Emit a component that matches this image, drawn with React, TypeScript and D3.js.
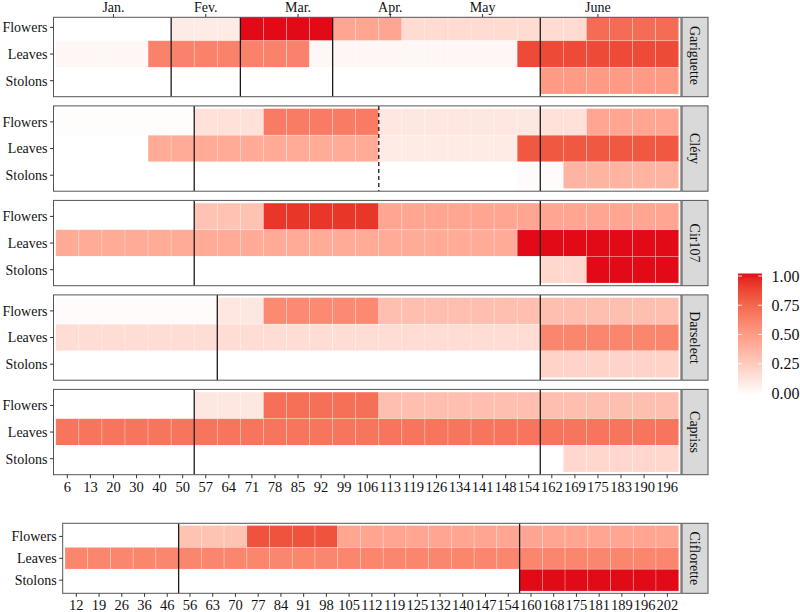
import React from "react";
import * as d3 from "d3";

// ---------- data ----------
const topDays = ["6","13","20","30","40","50","57","64","71","78","85","92","99","106","113","119","126","134","141","148","154","162","169","175","183","190","196"];
const cifDays = ["12","19","26","36","46","56","63","70","77","84","91","98","105","112","119","125","132","140","147","154","160","168","175","181","189","196","202"];
const organs = ["Flowers", "Leaves", "Stolons"];
const months = ["Jan.", "Fev.", "Mar.", "Apr.", "May", "June"];
const monthDays = ["20", "57", "85", "113", "141", "175"];
const cultivars = ["Gariguette", "Cléry", "Cir107", "Darselect", "Capriss"];
const legendTicks = [0, 0.25, 0.5, 0.75, 1];

const garFlowers = [0,0,0,0,0,0.1,0.1,0.1,1,1,1,1,0.45,0.45,0.45,0.18,0.18,0.18,0.18,0.18,0.18,0.18,0.18,0.72,0.72,0.72,0.72];
const garLeaves = [0.04,0.04,0.04,0.04,0.62,0.62,0.62,0.62,0.62,0.62,0.62,0.04,0.04,0.04,0.04,0.04,0.04,0.04,0.04,0.04,0.85,0.85,0.85,0.85,0.85,0.85,0.85];
const garStolons = [0,0,0,0,0,0,0,0,0,0,0,0,0,0,0,0,0,0,0,0,0,0.5,0.5,0.5,0.5,0.5,0.5];

const cleFlowers = [0.01,0.01,0.01,0.01,0.01,0.01,0.15,0.15,0.15,0.65,0.65,0.65,0.65,0.65,0.12,0.12,0.12,0.12,0.12,0.12,0.12,0.15,0.15,0.45,0.45,0.45,0.45];
const cleLeaves = [0,0,0,0,0.42,0.42,0.42,0.42,0.42,0.42,0.42,0.42,0.42,0.42,0.1,0.1,0.1,0.1,0.1,0.1,0.8,0.8,0.8,0.8,0.8,0.8,0.8];
const cleStolons = [0,0,0,0,0,0,0,0,0,0,0,0,0,0,0,0,0,0,0,0,0.02,0.02,0.38,0.38,0.38,0.38,0.38];

const cirFlowers = [0,0,0,0,0,0,0.3,0.3,0.3,0.92,0.92,0.92,0.92,0.92,0.45,0.45,0.45,0.45,0.45,0.45,0.45,0.45,0.45,0.45,0.45,0.45,0.45];
const cirLeaves = [0.42,0.42,0.42,0.42,0.42,0.42,0.42,0.42,0.42,0.42,0.42,0.42,0.42,0.42,0.42,0.42,0.42,0.42,0.42,0.42,1,1,1,1,1,1,1];
const cirStolons = [0,0,0,0,0,0,0,0,0,0,0,0,0,0,0,0,0,0,0,0,0,0.2,0.2,1,1,1,1];

const darFlowers = [0.02,0.02,0.02,0.02,0.02,0.02,0.02,0.12,0.12,0.58,0.58,0.58,0.58,0.58,0.32,0.32,0.32,0.32,0.32,0.32,0.32,0.32,0.32,0.32,0.32,0.32,0.32];
const darLeaves = [0.17,0.17,0.17,0.17,0.17,0.17,0.17,0.17,0.17,0.17,0.17,0.17,0.17,0.17,0.17,0.17,0.17,0.17,0.17,0.17,0.17,0.6,0.6,0.6,0.6,0.6,0.6];
const darStolons = [0,0,0,0,0,0,0,0,0,0,0,0,0,0,0,0,0,0,0,0,0,0.22,0.22,0.22,0.22,0.22,0.22];

const capFlowers = [0,0,0,0,0,0,0.12,0.12,0.12,0.7,0.7,0.7,0.7,0.7,0.32,0.32,0.32,0.32,0.32,0.32,0.32,0.32,0.32,0.32,0.32,0.32,0.32];
const capLeaves = [0.68,0.68,0.68,0.68,0.68,0.68,0.68,0.68,0.68,0.68,0.68,0.68,0.68,0.68,0.68,0.68,0.68,0.68,0.68,0.68,0.68,0.68,0.68,0.68,0.68,0.68,0.68];
const capStolons = [0,0,0,0,0,0,0,0,0,0,0,0,0,0,0,0,0,0,0,0,0,0,0.2,0.2,0.2,0.2,0.2];

const cifFlowers = [0,0,0,0,0,0.3,0.3,0.3,0.82,0.82,0.82,0.82,0.45,0.45,0.45,0.45,0.45,0.45,0.45,0.45,0.45,0.45,0.45,0.45,0.45,0.45,0.45];
const cifLeaves = [0.6,0.6,0.6,0.6,0.6,0.6,0.6,0.6,0.6,0.6,0.6,0.6,0.6,0.6,0.6,0.6,0.6,0.6,0.6,0.6,0.6,0.6,0.6,0.6,0.6,0.6,0.6];
const cifStolons = [0,0,0,0,0,0,0,0,0,0,0,0,0,0,0,0,0,0,0,0,1,1,1,1,1,1,1];

// vertical separators: first day after the line
const garLines = ["50", "71", "99", "162"];
const cleLines = ["57", "162"];
const cleDashed = ["113"];
const cirLines = ["57", "162"];
const darLines = ["64", "162"];
const capLines = ["57", "162"];
const cifLines = ["56", "160"];

// ---------- styling ----------
const FONT = "'Liberation Serif', 'Times New Roman', serif";
const FS = 14;
const FSX = 14.5;
const color = d3.scaleLinear<string>().domain([0, 1]).range(["#ffffff", "#E20A17"]).interpolate(d3.interpolateLab);

type PanelProps = {
  name: string;
  days: string[];
  rows: number[][];
  lines: string[];
  dashed?: string[];
  x0: number; x1: number; top: number; height: number;
  clipTop?: number;
  showX?: boolean;
  labelGap?: number;
  stripCenter?: number;
};

function Panel(p: PanelProps) {
  const x = d3.scaleBand().domain(p.days).range([p.x0, p.x1]).paddingInner(0).paddingOuter(0.1);
  const y = d3.scaleBand().domain(organs).range([p.top, p.top + p.height]).paddingInner(0).paddingOuter(0.1);
  const visTop = p.clipTop ?? p.top;
  const bottom = p.top + p.height;
  const clipId = "clip-" + p.name.replace(/[^a-zA-Z0-9]/g, "");
  const stripX0 = 682, stripX1 = 708;
  const sc = p.stripCenter ?? (p.top + bottom) / 2;
  return (
    <g>
      <defs>
        <clipPath id={clipId}>
          <rect x={p.x0} y={visTop} width={p.x1 - p.x0} height={bottom - visTop} />
        </clipPath>
      </defs>
      <g clipPath={`url(#${clipId})`}>
        {organs.map((o, ri) =>
          p.days.map((d, ci) => (
            <rect key={o + d} x={x(d)} y={y(o)} width={x.bandwidth()} height={y.bandwidth()}
              fill={color(p.rows[ri][ci])} stroke="#ffffff" strokeOpacity={0.35} strokeWidth={0.7} />
          ))
        )}
        {p.lines.map((d) => (
          <line key={"l" + d} x1={x(d)} x2={x(d)} y1={visTop} y2={bottom} stroke="#1a1a1a" strokeWidth={1.3} />
        ))}
        {(p.dashed || []).map((d) => (
          <line key={"dl" + d} x1={x(d)} x2={x(d)} y1={visTop} y2={bottom} stroke="#1a1a1a" strokeWidth={1.3} strokeDasharray="4,3" />
        ))}
      </g>
      <rect x={p.x0} y={visTop} width={p.x1 - p.x0} height={bottom - visTop} fill="none" stroke="#555" strokeWidth={1} />
      {/* y axis */}
      {organs.map((o) => {
        const cy = (y(o) as number) + y.bandwidth() / 2;
        return (
          <g key={"y" + o}>
            <line x1={p.x0 - 3.5} x2={p.x0} y1={cy} y2={cy} stroke="#333" strokeWidth={1} />
            <text x={p.x0 - (p.labelGap ?? 6)} y={cy} dy="0.35em" textAnchor="end" fontFamily={FONT} fontSize={FS} fill="#111">{o}</text>
          </g>
        );
      })}
      {/* x axis */}
      {p.showX && p.days.map((d) => {
        const cx = (x(d) as number) + x.bandwidth() / 2;
        return (
          <g key={"x" + d}>
            <line x1={cx} x2={cx} y1={bottom} y2={bottom + 3.5} stroke="#333" strokeWidth={1} />
            <text x={cx} y={bottom + 17} textAnchor="middle" fontFamily={FONT} fontSize={FSX} fill="#111">{d}</text>
          </g>
        );
      })}
      {/* strip */}
      <rect x={stripX0} y={visTop} width={stripX1 - stripX0} height={bottom - visTop} fill="#D9D9D9" stroke="#555" strokeWidth={1} />
      <text transform={`translate(${(stripX0 + stripX1) / 2},${sc}) rotate(90)`} textAnchor="middle" dy="0.35em"
        fontFamily={FONT} fontSize={FS} fill="#111">{p.name}</text>
    </g>
  );
}

export default function App() {
  const X0 = 53.5, X1 = 681;
  const H = 85.3, STEP = 94.5, TOP0 = 11.4;
  const rowsByCultivar: number[][][] = [
    [garFlowers, garLeaves, garStolons],
    [cleFlowers, cleLeaves, cleStolons],
    [cirFlowers, cirLeaves, cirStolons],
    [darFlowers, darLeaves, darStolons],
    [capFlowers, capLeaves, capStolons],
  ];
  const linesByCultivar = [garLines, cleLines, cirLines, darLines, capLines];
  const dashedByCultivar = [[], cleDashed, [], [], []];

  const monthX = d3.scaleBand().domain(topDays).range([X0, X1]).paddingInner(0).paddingOuter(0.1);

  const legY = d3.scaleLinear().domain([0, 1]).range([393, 276]);
  const stops = d3.range(0, 1.0001, 0.05);

  return (
    <svg width={800} height={612} style={{ position: "absolute", left: 0, top: 0, background: "#fff" }}>
      <rect x={0} y={0} width={800} height={612} fill="#fff" />
      {/* month axis on top */}
      {months.map((m, i) => {
        const cx = (monthX(monthDays[i]) as number) + monthX.bandwidth() / 2;
        return (
          <g key={m}>
            <line x1={cx} x2={cx} y1={14} y2={17.3} stroke="#333" strokeWidth={1} />
            <text x={cx} y={12.3} textAnchor="middle" fontFamily={FONT} fontSize={FS} fill="#111">{m}</text>
          </g>
        );
      })}
      {cultivars.map((c, i) => (
        <Panel key={c} name={c} days={topDays} rows={rowsByCultivar[i]} lines={linesByCultivar[i]}
          dashed={dashedByCultivar[i]} x0={X0} x1={X1} top={TOP0 + i * STEP} height={H}
          clipTop={i === 0 ? 17.3 : undefined} showX={i === cultivars.length - 1}
          stripCenter={i === 0 ? 55.5 : undefined} />
      ))}
      <Panel name="Ciflorette" days={cifDays} rows={[cifFlowers, cifLeaves, cifStolons]} lines={cifLines}
        x0={62.7} x1={X1} top={523.3} height={70} showX={true} />
      {/* legend */}
      <defs>
        <linearGradient id="legGrad" x1="0" y1="1" x2="0" y2="0">
          {stops.map((s) => (
            <stop key={s} offset={`${s * 100}%`} stopColor={color(s)} />
          ))}
        </linearGradient>
      </defs>
      <rect x={738} y={legY(1) - 2.5} width={24} height={legY(0) - legY(1) + 5} fill="url(#legGrad)" />
      {legendTicks.map((t) => (
        <g key={t}>
          {t > 0 && t < 1.01 && (
            <>
              <line x1={738} x2={742} y1={legY(t)} y2={legY(t)} stroke="#fff" strokeWidth={0.8} />
              <line x1={758} x2={762} y1={legY(t)} y2={legY(t)} stroke="#fff" strokeWidth={0.8} />
            </>
          )}
          <text x={771.5} y={legY(t)} dy="0.35em" fontFamily={FONT} fontSize={16} fill="#111">{t.toFixed(2)}</text>
        </g>
      ))}
    </svg>
  );
}
